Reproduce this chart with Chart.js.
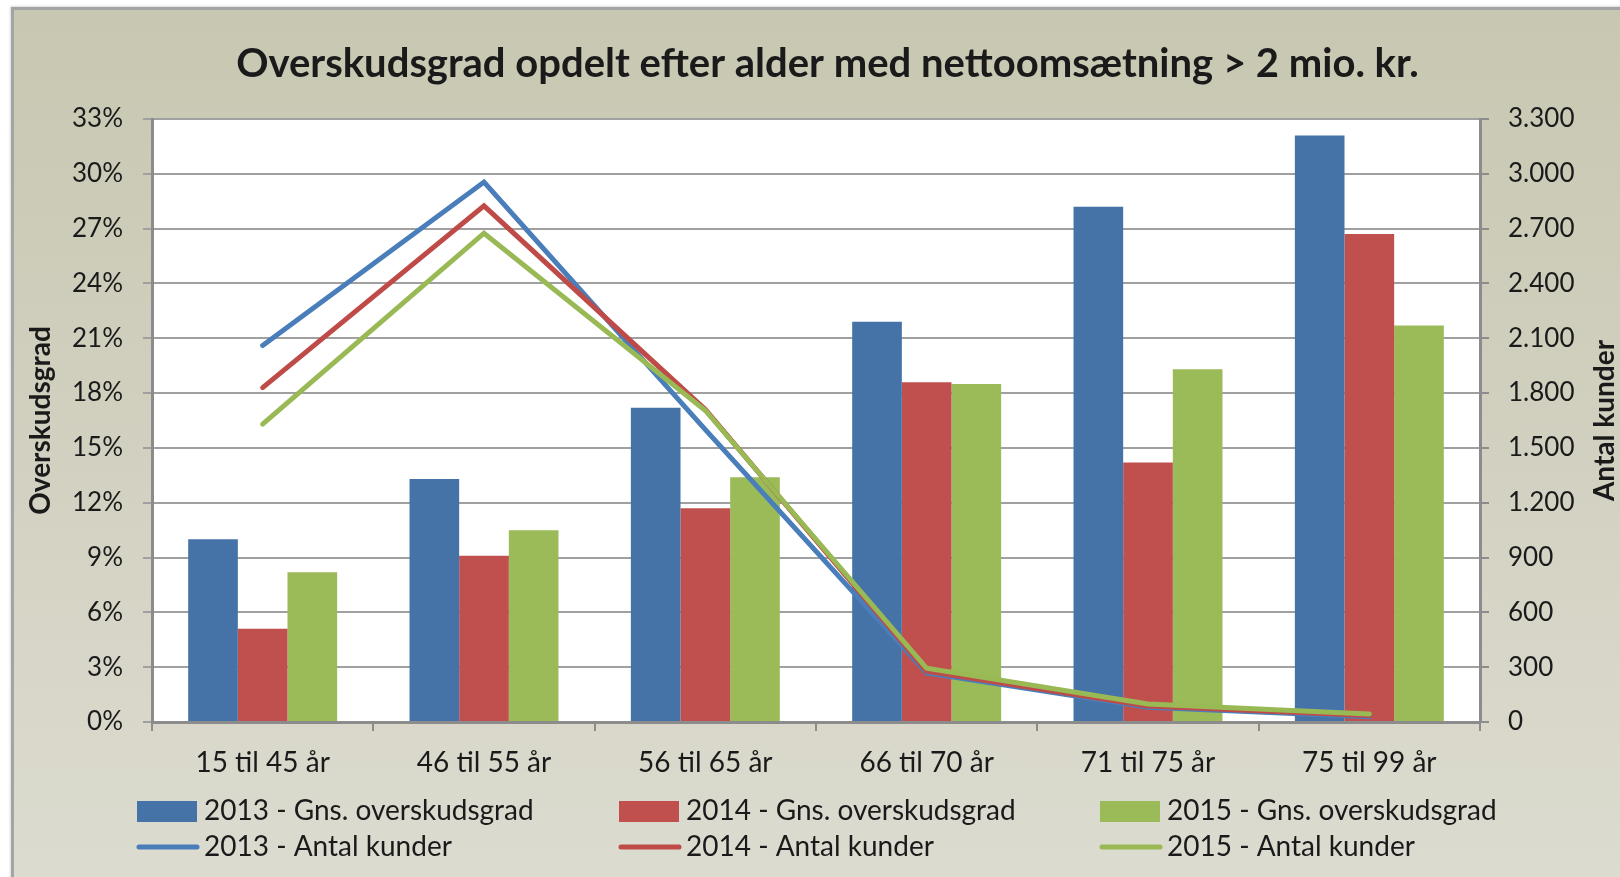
<!DOCTYPE html>
<html>
<head>
<meta charset="utf-8">
<title>Overskudsgrad opdelt efter alder</title>
<script src="https://cdn.jsdelivr.net/npm/chart.js@4.4.0/dist/chart.umd.min.js"></script>
<style>
    html, body { margin: 0; padding: 0; background: #fff; overflow: hidden; }
    #frame {
        position: absolute; left: 11px; top: 7px; width: 1640px; height: 900px;
        background: linear-gradient(to bottom, #c8c7b1 0%, #d2d1c1 50%, #dddcd1 100%);
        border-left: 3px solid #a4a4a4; border-top: 3px solid #a4a4a4;
        box-shadow: -1px -1px 2px rgba(0,0,0,0.15);
    }
    #wrap { position: absolute; left: 0; top: 0; width: 1620px; height: 877px; }
</style>
</head>
<body>
<div id="frame"></div>
<div id="wrap"><canvas id="chart" width="1620" height="877"></canvas></div>
<script>
// Overskudsgrad (bars, left axis) and antal kunder (lines, right axis)
var categories = ['15 til 45 år', '46 til 55 år', '56 til 65 år', '66 til 70 år', '71 til 75 år', '75 til 99 år'];
var rate2013 = [10.0, 13.3, 17.2, 21.9, 28.2, 32.1];
var rate2014 = [5.1, 9.1, 11.7, 18.6, 14.2, 26.7];
var rate2015 = [8.2, 10.5, 13.4, 18.5, 19.3, 21.7];
var customers2013 = [2060, 2955, 1600, 268, 80, 29];
var customers2014 = [1830, 2825, 1710, 278, 88, 36];
var customers2015 = [1630, 2675, 1705, 294, 98, 44];

var barColors = ['#4572a7', '#c0504d', '#9bbb59'];
var lineColors = ['#4a7ebb', '#be4b48', '#98b954'];
var textColor = '#1a1a1a';
var gridColor = '#a0a0a0';
var axisColor = '#8c8c8c';
var baseFont = 'Lato, "Open Sans", sans-serif';

function thousands(v) {
    return String(v).replace(/\B(?=(\d{3})+(?!\d))/g, '.');
}

// white plot area
var plotBackground = {
    id: 'plotBackground',
    beforeDraw: function (chart) {
        var a = chart.chartArea, ctx = chart.ctx;
        ctx.save();
        ctx.fillStyle = '#ffffff';
        ctx.fillRect(a.left, a.top, a.right - a.left, a.bottom - a.top);
        ctx.restore();
    }
};

// both axis titles read bottom-to-top, like the original
var axisTitles = {
    id: 'axisTitles',
    afterDraw: function (chart) {
        var a = chart.chartArea, ctx = chart.ctx;
        var midY = (a.top + a.bottom) / 2;
        ctx.save();
        ctx.font = 'bold 28px ' + baseFont;
        ctx.fillStyle = textColor;
        ctx.textAlign = 'center';
        ctx.textBaseline = 'middle';
        [['Overskudsgrad', 41], ['Antal kunder', 1605]].forEach(function (t) {
            ctx.save();
            ctx.translate(t[1], midY);
            ctx.rotate(-Math.PI / 2);
            ctx.fillText(t[0], 0, 0);
            ctx.restore();
        });
        ctx.restore();
    }
};

// three-column legend: bars on the first row, lines on the second
var legendCols = [137, 619, 1100];
var legendRows = [811, 847];
var gridLegend = {
    id: 'gridLegend',
    afterDraw: function (chart) {
        var ctx = chart.ctx;
        var sets = chart.data.datasets;
        ctx.save();
        ctx.font = '28px ' + baseFont;
        ctx.textBaseline = 'middle';
        ctx.textAlign = 'left';
        sets.forEach(function (ds, i) {
            var row = ds.type === 'line' ? 1 : 0;
            var col = i % 3;
            var x = legendCols[col], y = legendRows[row];
            if (row === 0) {
                ctx.fillStyle = ds.backgroundColor;
                ctx.fillRect(x, y - 10, 60, 21);
            } else {
                ctx.strokeStyle = ds.borderColor;
                ctx.lineWidth = 5;
                ctx.lineCap = 'round';
                ctx.beginPath();
                ctx.moveTo(x + 2, y);
                ctx.lineTo(x + 60, y);
                ctx.stroke();
            }
            ctx.fillStyle = textColor;
            ctx.fillText(ds.label, x + 67, y);
        });
        ctx.restore();
    }
};

function barSet(label, data, color) {
    return {
        type: 'bar', label: label, data: data, yAxisID: 'y', order: 3,
        backgroundColor: color, borderWidth: 0,
        categoryPercentage: 0.673, barPercentage: 1.0
    };
}
function lineSet(label, data, color, order) {
    return {
        type: 'line', label: label, data: data, yAxisID: 'y1', order: order,
        borderColor: color, backgroundColor: color, borderWidth: 5,
        pointRadius: 0, tension: 0, fill: false, borderCapStyle: 'round'
    };
}

var ctx = document.getElementById('chart').getContext('2d');
new Chart(ctx, {
    data: {
        labels: categories,
        datasets: [
            barSet('2013 - Gns. overskudsgrad', rate2013, barColors[0]),
            barSet('2014 - Gns. overskudsgrad', rate2014, barColors[1]),
            barSet('2015 - Gns. overskudsgrad', rate2015, barColors[2]),
            lineSet('2013 - Antal kunder', customers2013, lineColors[0], 2),
            lineSet('2014 - Antal kunder', customers2014, lineColors[1], 1),
            lineSet('2015 - Antal kunder', customers2015, lineColors[2], 0)
        ]
    },
    options: {
        responsive: false, animation: false,
        layout: { padding: { left: 35, right: 0, top: 0, bottom: 0 } },
        plugins: {
            legend: { display: false },
            tooltip: { enabled: false },
            title: {
                display: true,
                text: 'Overskudsgrad opdelt efter alder med nettoomsætning > 2 mio. kr.',
                color: textColor,
                font: { family: baseFont, size: 40, weight: 'bold' },
                padding: { top: 40, bottom: 31 }
            }
        },
        scales: {
            x: {
                offset: true,
                grid: { display: true, offset: true, drawOnChartArea: false, tickLength: 9, color: axisColor, lineWidth: 2 },
                border: { color: axisColor, width: 3 },
                ticks: { color: textColor, padding: 15, font: { family: baseFont, size: 28 } },
                afterFit: function (s) { s.height = 155; }
            },
            y: {
                position: 'left', min: 0, max: 33,
                ticks: {
                    stepSize: 3, padding: 20, color: textColor,
                    font: { family: baseFont, size: 26 },
                    callback: function (v) { return v + '%'; }
                },
                grid: { color: gridColor, lineWidth: 2, tickLength: 9 },
                border: { color: axisColor, width: 3 },
                afterFit: function (s) { s.width = 117; }
            },
            y1: {
                position: 'right', min: 0, max: 3300,
                ticks: {
                    stepSize: 300, padding: 19, color: textColor,
                    font: { family: baseFont, size: 26 },
                    callback: function (v) { return thousands(v); }
                },
                grid: { drawOnChartArea: false, color: axisColor, lineWidth: 2, tickLength: 9 },
                border: { color: axisColor, width: 3 },
                afterFit: function (s) { s.width = 140; }
            }
        }
    },
    plugins: [plotBackground, axisTitles, gridLegend]
});
</script>
</body>
</html>
